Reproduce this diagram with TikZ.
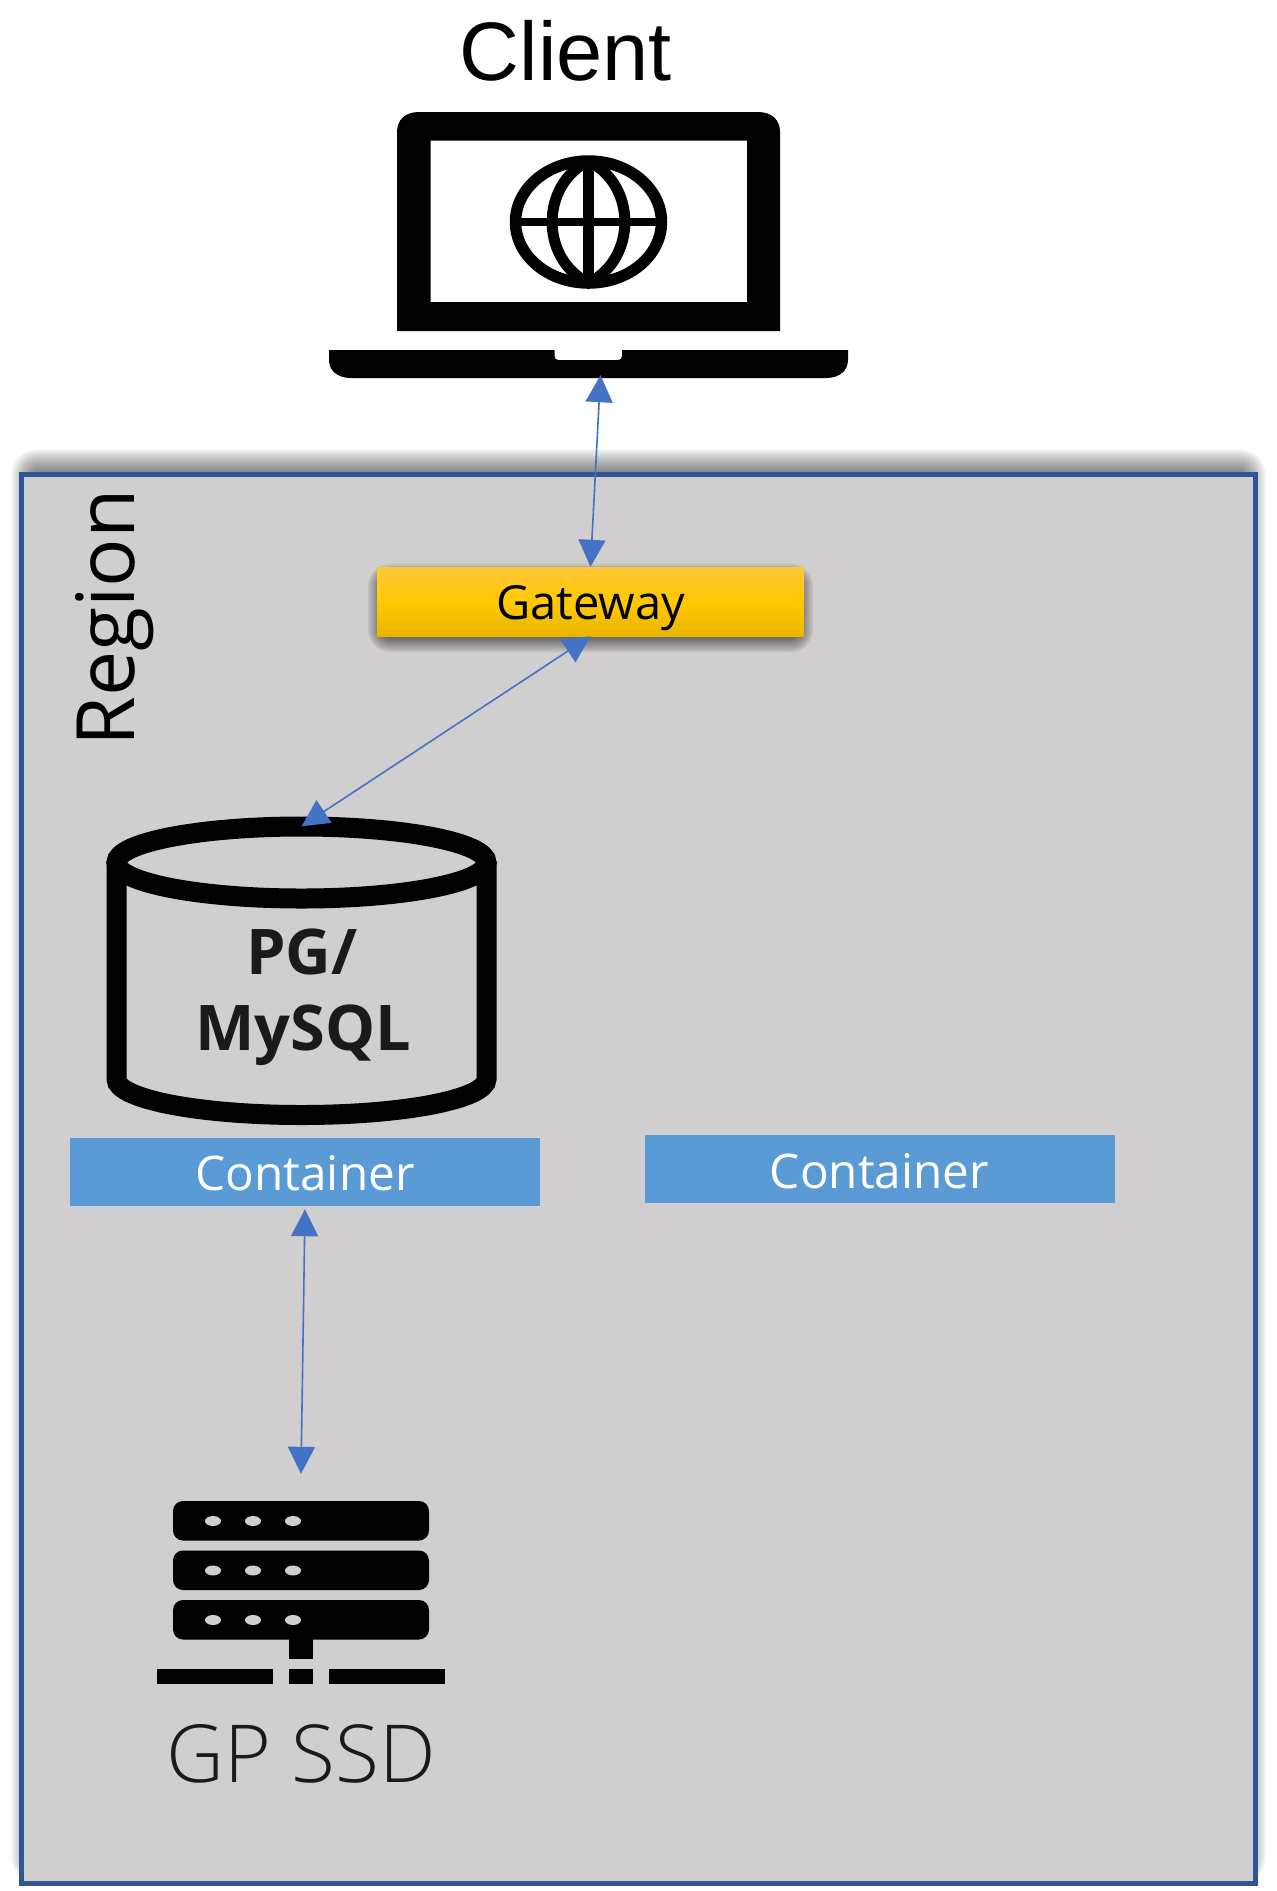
\documentclass[tikz,border=0pt]{standalone}
\usepackage{fontspec}
\usetikzlibrary{arrows.meta, positioning}
\setmainfont{Open Sans}
\newfontfamily\arialfont{Liberation Sans}
\newfontfamily\lightfont{Open Sans Light}
\definecolor{regionfill}{HTML}{D0CECE}
\definecolor{regionline}{HTML}{2F5597}
\definecolor{linkblue}{HTML}{4472C4}
\definecolor{boxblue}{HTML}{5B9BD5}
\definecolor{inktext}{HTML}{1A1A1A}
\definecolor{goldtop}{HTML}{FFC83A}
\definecolor{goldmid}{HTML}{FFC800}
\definecolor{goldlow}{HTML}{E8B600}

\begin{document}
\begin{tikzpicture}[x=1pt,y=-1pt,>={Triangle[length=27pt,width=27pt]}]
                \tikzset{
                    link/.style={<->,draw=linkblue,fill=linkblue,line width=1.6pt},
                    containerbox/.style={fill=boxblue,text=white,minimum width=470pt,minimum height=68pt,font=\fontsize{47.7}{48}\selectfont,inner sep=0pt,text height=38pt,text depth=1pt},
                    dbtext/.style={text=inktext,font=\bfseries\fontsize{63}{76}\selectfont,anchor=base},
                    bar/.style={fill=black,rounded corners=10pt},
                    dot/.style={fill=regionfill}
                }
                \useasboundingbox (0,0) rectangle (1277,1891);

                \foreach \e in {12,10,...,-12}
                    \fill[black,opacity=0.05,rounded corners={(\e+14)*1pt}] (23.5-\e,461.5-\e) rectangle (1253.5+\e,1871+\e);
                \node[draw=regionline,fill=regionfill,line width=5pt,minimum width=1234pt,minimum height=1409pt,inner sep=0pt] (Region) at (638.5,1179) {};
                \node[rotate=90,anchor=base,font=\fontsize{80.5}{81}\selectfont] (RegionLabel) at (134,618) {Region};

                \node[font=\arialfont\fontsize{83}{83}\selectfont,anchor=base] (Client) at (566,80) {Client};

                \fill[black,even odd rule] (397,331) -- (397,132) .. controls (397,120) and (405,112) .. (419,112) -- (758,112) .. controls (772,112) and (780,120) .. (780,132) -- (780,331) -- cycle
                      (430.5,140.5) rectangle (747,302);
                \draw[line width=11.5pt] (588.5,222) ellipse (73 and 61);
                \draw[line width=11pt] (588.5,161) .. controls (540,185) and (540,259) .. (588.5,283)
                      .. controls (637,259) and (637,185) .. (588.5,161);
                \draw[line width=10.5pt] (588.5,161) -- (588.5,283);
                \draw[line width=8.5pt] (515.5,222) -- (661.5,222);

                \node[minimum width=519pt,minimum height=28pt,inner sep=0pt] (LaptopBase) at (588.5,364) {};
                \fill[black] (329,350) -- (554.5,350) -- (554.5,356) .. controls (554.5,358.5) and (556,360) .. (558.5,360) -- (618,360) .. controls (620.5,360) and (622,358.5) .. (622,356) -- (622,350)
                      -- (848,350) -- (848,360) .. controls (848,371) and (839,378) .. (826,378) -- (351,378) .. controls (338,378) and (329,371) .. (329,360) -- cycle;

                \foreach \e in {10,8,...,-10}
                    \fill[black,opacity=0.08,rounded corners={(\e+12)*1pt}] (378-\e,574-\e) rectangle (803+\e,642+\e);
                \node[top color=goldtop,bottom color=goldlow,middle color=goldmid,
                      minimum width=427pt,minimum height=69pt,inner sep=0pt,text height=45pt,text depth=10pt,font=\fontsize{47}{47}\selectfont] (Gateway) at (590.5,601.5) {Gateway};

                \draw[line width=20pt] (301.5,862.5) ellipse (185 and 36);
                \draw[line width=20pt] (116.5,862.5) -- (116.5,1079) .. controls (116.5,1099) and (199,1115) .. (301.5,1115)
                      .. controls (404,1115) and (486.5,1099) .. (486.5,1079) -- (486.5,862.5);
                \node[minimum width=391pt,minimum height=308.5pt,inner sep=0pt] (PG) at (301.5,970.75) {};
                \node[dbtext] (PGLabel) at (302,974) {PG/};
                \node[dbtext] (MySQLLabel) at (303,1050) {MySQL};

                \node[containerbox] (ContainerA) at (305,1172) {Container};
                \node[containerbox,text height=41pt] (ContainerB) at (879.5,1168.5) {Container};

                \foreach \y in {1501,1550.5,1600}{
                    \fill[bar] (173,\y) rectangle +(256,39.5);
                    \foreach \x in {213,253,293}
                        \fill[dot] (\x,\y+20) ellipse (8 and 5);
                }
                \fill (289,1639) rectangle (313,1659);
                \fill (289,1669) rectangle (313,1684);
                \fill (157,1669) rectangle (273,1684);
                \fill (329,1669) rectangle (445,1684);
                \node[minimum width=256pt,minimum height=138pt,inner sep=0pt] (Server) at (301,1570) {};
                \node[text=inktext,font=\lightfont\fontsize{80}{80}\selectfont,anchor=base] (SSD) at (301,1782) {GP SSD};

                \path
                ([xshift=12pt,yshift=3pt]LaptopBase.south) edge[link] (Gateway.north)
                (Gateway.south) edge[link] ([yshift=-10pt]PG.north)
                ([yshift=-3pt]ContainerA.south) edge[link] ([yshift=27pt]Server.north);
            \end{tikzpicture}
\end{document}
